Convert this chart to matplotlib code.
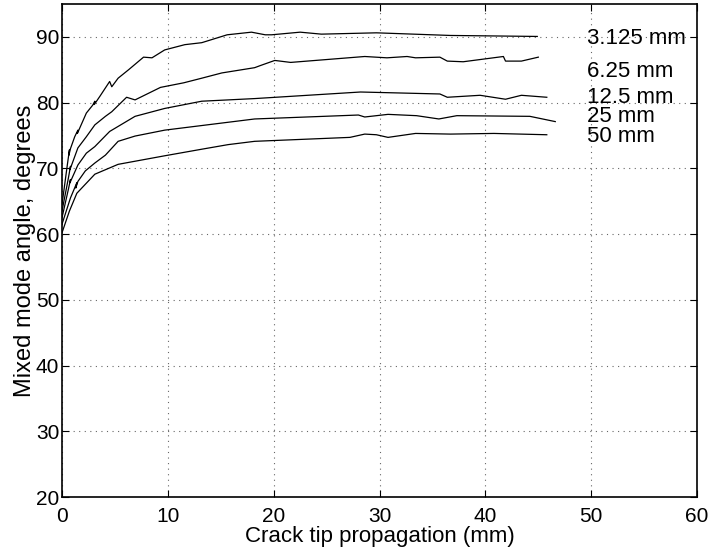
import matplotlib
matplotlib.use("Agg")
import matplotlib.pyplot as plt
import numpy as np

plt.rcParams['font.family'] = ['Liberation Sans', 'DejaVu Sans']

# crack tip propagation (mm) and mixed mode angle (deg) for each element size
x_3125 = [0, 0.5, 0.7, 0.65, 0.8, 1.2, 1.5, 1.45, 2.3, 2.9, 3.1, 3.05, 3.6, 4.5, 4.7, 5.3, 6.3, 7.7, 8.5,
          9.7, 11.6, 13.2, 15.6, 17.9, 19.2, 19.8, 22.5, 24.5, 29.7, 36.7, 44.9]
y_3125 = [64.5, 70.5, 72.8, 72.0, 73.0, 74.8, 75.8, 75.3, 78.4, 79.6, 80.2, 79.7, 81.0, 83.2, 82.4, 83.7,
          85.0, 86.9, 86.8, 88.0, 88.8, 89.1, 90.3, 90.7, 90.3, 90.3, 90.7, 90.4, 90.6, 90.2, 90.05]

x_625 = [0, 0.6, 0.8, 0.75, 1.5, 2.3, 3.1, 4.1, 4.7, 6.1, 6.9, 9.3, 11.5, 13.2, 15.1, 18.2, 18.7, 20.1,
         21.6, 28.6, 30.7, 32.6, 33.4, 35.7, 36.4, 37.9, 41.7, 41.9, 43.4, 45.0]
y_625 = [63.5, 68.5, 70.3, 69.8, 73.1, 74.8, 76.6, 77.9, 78.6, 80.8, 80.4, 82.3, 83.0, 83.7, 84.5, 85.3,
         85.6, 86.4, 86.1, 87.0, 86.8, 87.0, 86.8, 86.9, 86.3, 86.2, 87.0, 86.3, 86.3, 86.9]

x_125 = [0, 0.6, 0.8, 0.75, 1.5, 2.3, 3.1, 4.5, 6.9, 9.7, 13.2, 18.2, 28.2, 35.7, 36.4, 39.5, 41.9,
         43.4, 45.8]
y_125 = [62.5, 66.8, 68.3, 67.8, 70.5, 72.3, 73.3, 75.6, 77.9, 79.1, 80.2, 80.6, 81.6, 81.3, 80.8, 81.1,
         80.5, 81.1, 80.8]

x_25 = [0, 0.8, 1.4, 1.3, 1.5, 2.2, 3.1, 4.1, 5.3, 6.9, 9.7, 13.2, 18.2, 28.0, 28.6, 30.8, 33.5, 35.6,
        37.3, 44.2, 46.6]
y_25 = [61.5, 65.5, 67.8, 67.0, 68.0, 69.6, 70.8, 72.0, 74.1, 74.9, 75.8, 76.5, 77.5, 78.1, 77.8, 78.2,
        78.0, 77.5, 78.0, 77.9, 77.1]

x_50 = [0, 0.7, 1.4, 3.1, 5.3, 9.7, 13.2, 15.7, 18.2, 27.2, 28.6, 29.7, 30.8, 33.4, 36.7, 40.8, 45.8]
y_50 = [60.2, 63.5, 66.2, 69.1, 70.6, 71.9, 72.9, 73.6, 74.1, 74.7, 75.2, 75.1, 74.7, 75.3, 75.2, 75.3, 75.1]

labels = ['3.125 mm', '6.25 mm', '12.5 mm', '25 mm', '50 mm']
label_y = [89.7, 84.7, 80.7, 77.8, 74.8]

fig = plt.figure(figsize=(7.08, 5.56), dpi=100)
ax = fig.add_axes([0.0876, 0.106, 0.897, 0.887])

for xs, ys in [(x_3125, y_3125), (x_625, y_625), (x_125, y_125), (x_25, y_25), (x_50, y_50)]:
    ax.plot(xs, ys, color='k', lw=0.9)

for lab, ly in zip(labels, label_y):
    ax.text(49.6, ly, lab, fontsize=16, va='center', ha='left')

ax.set_xlim(0, 60)
ax.set_ylim(20, 95)
ax.set_xticks(np.arange(0, 61, 10))
ax.set_yticks(np.arange(20, 91, 10))
ax.grid(True, linestyle=(0, (1, 4)), color='k', lw=0.8, alpha=0.6)
ax.tick_params(direction='in', top=True, right=True, labelsize=15, length=5)
ax.tick_params(axis='x', pad=7)
ax.tick_params(axis='y', pad=2)
for s in ax.spines.values():
    s.set_linewidth(1.2)

ax.set_xlabel('Crack tip propagation (mm)', fontsize=16, labelpad=0)
ax.set_ylabel('Mixed mode angle, degrees', fontsize=17, labelpad=0)

plt.savefig('out.png', dpi=100)
